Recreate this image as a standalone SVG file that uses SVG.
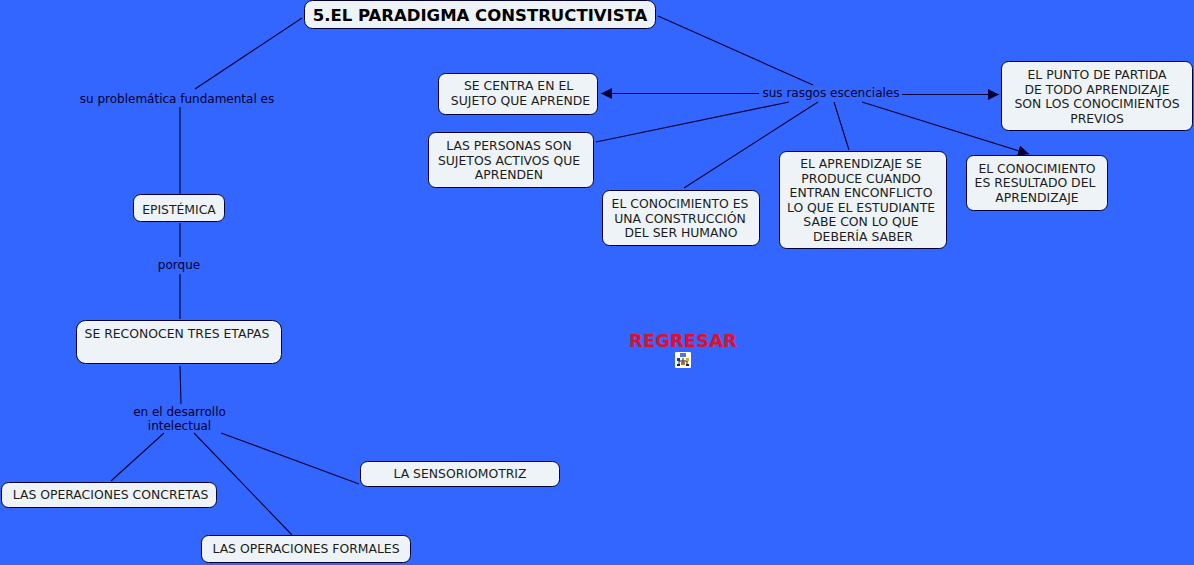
<svg xmlns="http://www.w3.org/2000/svg" width="1194" height="565" viewBox="0 0 1194 565">
<style>
text{font-family:"DejaVu Sans",Verdana,sans-serif;font-size:12px;text-anchor:middle}
.n rect{fill:#edf3f6;stroke:#000033;stroke-width:1}
.n text{fill:#1c1c1c;font-size:12.4px}
.l{fill:#000033}
#conn line{stroke:#000033;stroke-width:1.1}
</style>
<defs><marker id="a" markerUnits="userSpaceOnUse" markerWidth="12" markerHeight="12" refX="11" refY="5.5" orient="auto"><path d="M0 0L11 5.500L0 11z" fill="#000033"/></marker></defs>
<rect width="1194" height="565" fill="#3366ff"/>
<g id="conn">
<line x1="302" y1="18" x2="195" y2="89"/>
<line x1="180" y1="107" x2="180" y2="194"/>
<line x1="180" y1="223" x2="180" y2="257"/>
<line x1="180" y1="274" x2="180" y2="319"/>
<line x1="180" y1="366" x2="181" y2="404"/>
<line x1="164" y1="433" x2="111" y2="481"/>
<line x1="194" y1="433" x2="292" y2="535"/>
<line x1="221" y1="433" x2="359" y2="484"/>
<line x1="658" y1="16" x2="813" y2="85"/>
<line x1="759" y1="93.500" x2="601" y2="93.500" marker-end="url(#a)"/>
<line x1="789" y1="102" x2="596" y2="142"/>
<line x1="818" y1="102" x2="684" y2="188"/>
<line x1="834" y1="102" x2="849" y2="150"/>
<line x1="862" y1="102" x2="1029" y2="154" marker-end="url(#a)"/>
<line x1="902" y1="94.500" x2="999" y2="94.500" marker-end="url(#a)"/>
</g>
<g id="titulo" class="n"><rect x="304.500" y="0.500" width="351" height="28" rx="8"/><text x="480" y="21" style="font-size:16.5px;font-weight:bold;fill:#000">5.EL PARADIGMA CONSTRUCTIVISTA</text></g>
<g id="l-problematica"><text class="l" x="177" y="103">su problemática fundamental es</text></g>
<g id="epistemica" class="n"><rect x="133.500" y="194.500" width="91" height="27" rx="7"/><text x="179" y="214">EPISTÉMICA</text></g>
<g id="l-porque"><text class="l" x="179" y="269">porque</text></g>
<g id="etapas" class="n"><rect x="76.500" y="320.500" width="205" height="43" rx="9"/><text x="177" y="338">SE RECONOCEN TRES ETAPAS</text></g>
<g id="l-desarrollo"><text class="l" x="179.500" y="416">en el desarrollo</text><text class="l" x="179.500" y="430">intelectual</text></g>
<g id="concretas" class="n"><rect x="1.500" y="482.500" width="215" height="25" rx="7"/><text x="110.500" y="499">LAS OPERACIONES CONCRETAS</text></g>
<g id="formales" class="n"><rect x="201.500" y="535.500" width="209" height="27" rx="7"/><text x="306" y="553">LAS OPERACIONES FORMALES</text></g>
<g id="sensoriomotriz" class="n"><rect x="360.500" y="461.500" width="199" height="25" rx="7"/><text x="460" y="478">LA SENSORIOMOTRIZ</text></g>
<g id="l-rasgos"><text class="l" x="831" y="97">sus rasgos escenciales</text></g>
<g id="centra" class="n"><rect x="438.500" y="73.500" width="159" height="41" rx="7"/><text x="518.500" y="90">SE CENTRA EN EL</text><text x="520.500" y="105">SUJETO QUE APRENDE</text></g>
<g id="personas" class="n"><rect x="428.500" y="132.500" width="165" height="55" rx="7"/><text x="509" y="150">LAS PERSONAS SON</text><text x="509" y="165">SUJETOS ACTIVOS QUE</text><text x="509" y="179">APRENDEN</text></g>
<g id="construccion" class="n"><rect x="602.500" y="190.500" width="157" height="55" rx="7"/><text x="680" y="208">EL CONOCIMIENTO ES</text><text x="680" y="223">UNA CONSTRUCCIÓN</text><text x="681" y="237">DEL SER HUMANO</text></g>
<g id="conflicto" class="n"><rect x="779.500" y="151.500" width="167" height="97" rx="7"/><text x="861" y="168">EL APRENDIZAJE SE</text><text x="861" y="183">PRODUCE CUANDO</text><text x="861" y="197">ENTRAN ENCONFLICTO</text><text x="861" y="212">LO QUE EL ESTUDIANTE</text><text x="861" y="226">SABE CON LO QUE</text><text x="863" y="241">DEBERÍA SABER</text></g>
<g id="resultado" class="n"><rect x="966.500" y="155.500" width="141" height="55" rx="7"/><text x="1037" y="173">EL CONOCIMIENTO</text><text x="1035" y="187">ES RESULTADO DEL</text><text x="1037" y="202">APRENDIZAJE</text></g>
<g id="partida" class="n"><rect x="1001.500" y="61.500" width="191" height="69" rx="7"/><text x="1097" y="79">EL PUNTO DE PARTIDA</text><text x="1097" y="94">DE TODO APRENDIZAJE</text><text x="1097" y="108">SON LOS CONOCIMIENTOS</text><text x="1097" y="123">PREVIOS</text></g>
<g id="regresar"><text x="683" y="347" style="font-size:18px;font-weight:bold;fill:#e0102a">REGRESAR</text>
<rect x="675" y="352" width="16" height="16" rx="1" fill="#fff"/>
<g fill="none" stroke="#223" stroke-width="1"><path d="M683 358V362M679 361H687M679 361V365M687 361V365"/></g>
<rect x="680" y="353" width="6" height="4" fill="#5577cc"/><rect x="677" y="358" width="3" height="3" fill="#223388"/><rect x="686" y="358" width="3" height="3" fill="#c9b030"/><rect x="681" y="362" width="4" height="3" fill="#b07040"/><rect x="677" y="364" width="3" height="2" fill="#223"/><rect x="686" y="364" width="3" height="2" fill="#223"/></g>
</svg>
